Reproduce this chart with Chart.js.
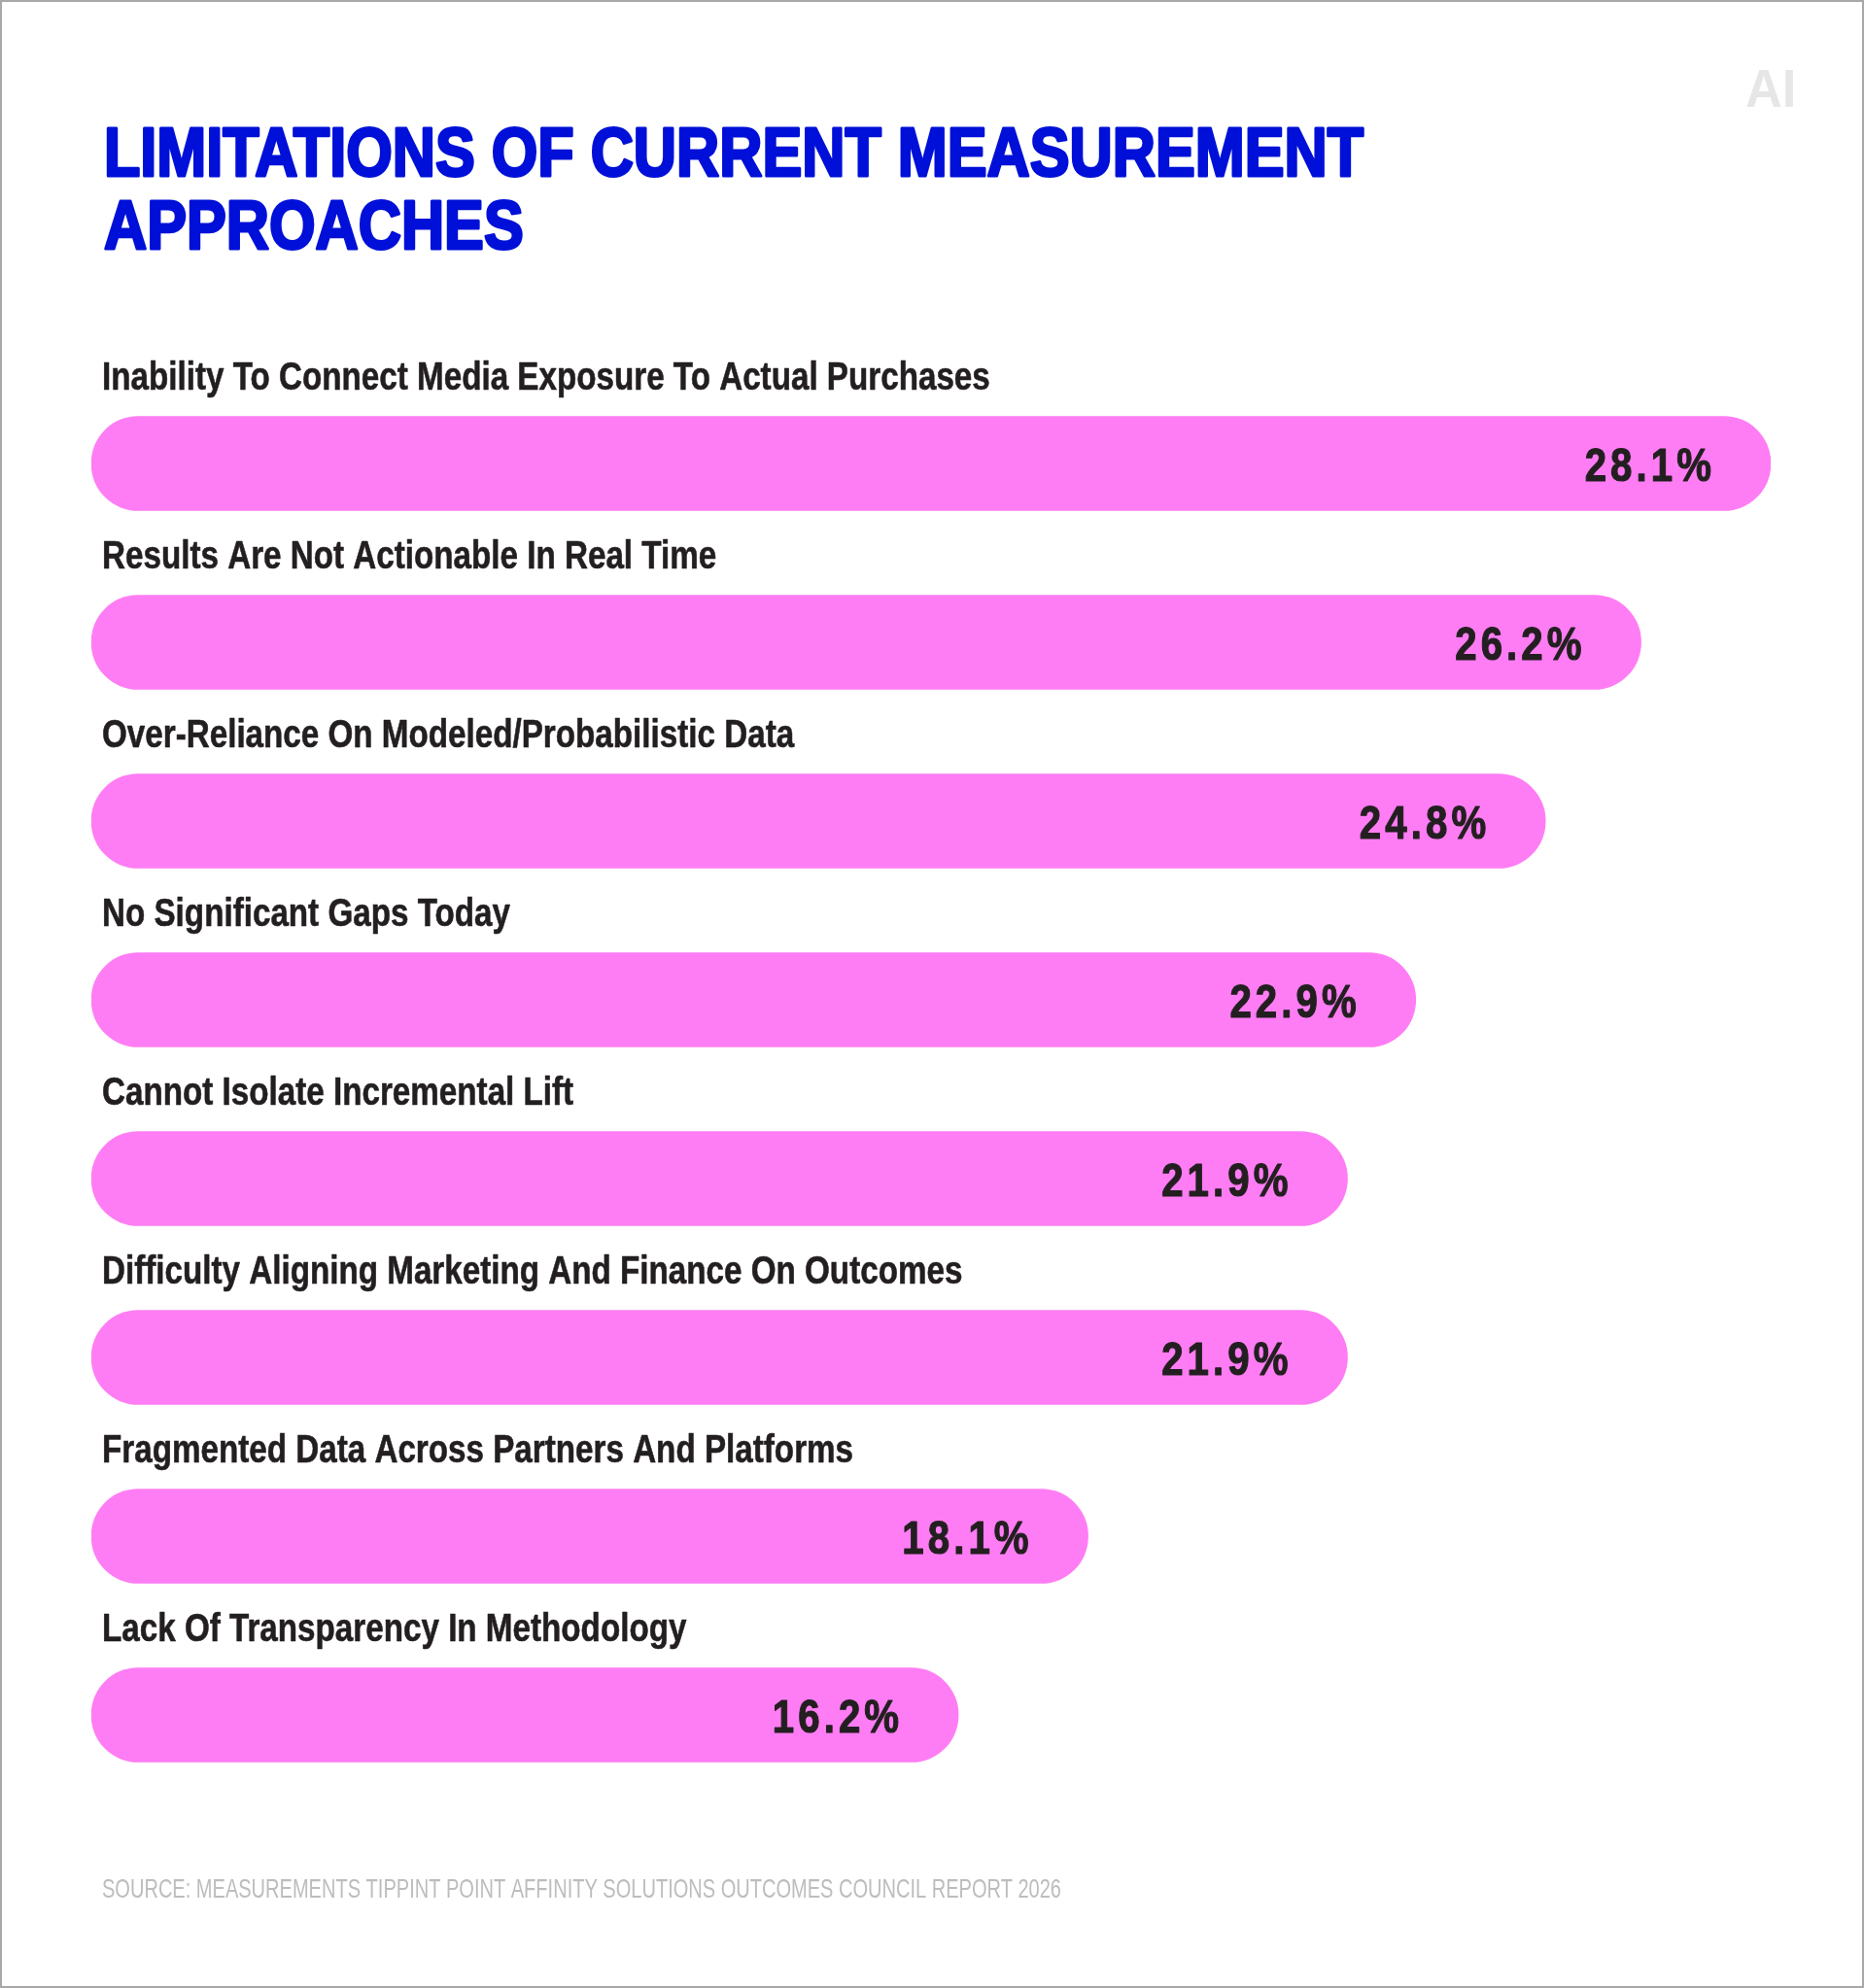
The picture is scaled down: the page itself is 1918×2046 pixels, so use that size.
<!DOCTYPE html>
<html>
<head>
<meta charset="utf-8">
<script src="https://cdn.jsdelivr.net/npm/chart.js@4.4.1/dist/chart.umd.min.js"></script>
<style>
  html, body { margin: 0; padding: 0; background: #ffffff; }
  #wrap { width: 1918px; height: 2046px; position: relative; }
  canvas { display: block; }
</style>
</head>
<body>
<div id="wrap"><canvas id="c" width="1918" height="2046"></canvas></div>
<script>
// ---- data ----
const titleLines = ["LIMITATIONS OF CURRENT MEASUREMENT", "APPROACHES"];
const categories = [
  "Inability To Connect Media Exposure To Actual Purchases",
  "Results Are Not Actionable In Real Time",
  "Over-Reliance On Modeled/Probabilistic Data",
  "No Significant Gaps Today",
  "Cannot Isolate Incremental Lift",
  "Difficulty Aligning Marketing And Finance On Outcomes",
  "Fragmented Data Across Partners And Platforms",
  "Lack Of Transparency In Methodology"
];
const values = [28.1, 26.2, 24.8, 22.9, 21.9, 21.9, 18.1, 16.2];
const sourceText = "SOURCE: MEASUREMENTS TIPPINT POINT AFFINITY SOLUTIONS OUTCOMES COUNCIL REPORT 2026";
const logoText = "AI";

// ---- scale settings ----
const axisMin = 3.5;
const axisMax = 28.1;

const SANS = "'Liberation Sans', Arial, sans-serif";
const BLUE = "#0010D8";
const PINK = "#FF7DF4";
const DARK = "#231F20";

function drawScaled(ctx, text, x, y, font, sx, ls, align, strokeW) {
  ctx.save();
  ctx.font = font;
  ctx.letterSpacing = (ls || 0) + "px";
  ctx.textAlign = 'left';
  ctx.textBaseline = 'alphabetic';
  let w = ctx.measureText(text).width - (ls || 0);
  const x0 = align === 'right' ? x - w * sx : x;
  ctx.translate(x0, y);
  ctx.scale(sx, 1);
  ctx.fillText(text, 0, 0);
  if (strokeW) {
    ctx.strokeStyle = ctx.fillStyle;
    ctx.lineWidth = strokeW;
    ctx.lineJoin = 'round';
    ctx.strokeText(text, 0, 0);
  }
  ctx.restore();
}
function widthOf(ctx, text, font) {
  ctx.save();
  ctx.font = font;
  ctx.letterSpacing = "0px";
  const w = ctx.measureText(text).width;
  ctx.restore();
  return w;
}

const decorPlugin = {
  id: 'decor',
  afterDatasetsDraw(chart) {
    const ctx = chart.ctx;
    const meta = chart.getDatasetMeta(0);
    const yScale = chart.scales.y;
    ctx.save();
    ctx.fillStyle = DARK;
    const labelFont = "bold 40px " + SANS;
    categories.forEach((c, i) => {
      const yc = yScale.getPixelForValue(i);
      drawScaled(ctx, c, 105, yc - 76, labelFont, 0.83, 0, 'left', 0.6);
    });
    const valFont = "bold 49px " + SANS;
    meta.data.forEach((bar, i) => {
      const t = values[i].toFixed(1) + "%";
      drawScaled(ctx, t, bar.x - 61, bar.y + 18, valFont, 0.82, 5, 'right', 1.2);
    });
    ctx.restore();
  },
  afterDraw(chart) {
    const ctx = chart.ctx;
    ctx.save();
    // title
    ctx.fillStyle = BLUE;
    const titleFont = "bold 70px " + SANS;
    const tsx = 1296 / widthOf(ctx, titleLines[0], titleFont);
    drawScaled(ctx, titleLines[0], 107, 181, titleFont, tsx, 0, 'left', 3);
    drawScaled(ctx, titleLines[1], 107, 256, titleFont, tsx, 0, 'left', 3);
    // source
    ctx.fillStyle = "#BDBDBD";
    const srcFont = "28px " + SANS;
    const ssx = 987 / widthOf(ctx, sourceText, srcFont);
    drawScaled(ctx, sourceText, 105, 1953, srcFont, ssx, 0, 'left', 0);
    // logo
    ctx.fillStyle = "#E6E6E6";
    drawScaled(ctx, logoText, 1796, 110, "bold 55px " + SANS, 0.95, 0, 'left', 0);
    // frame
    ctx.strokeStyle = "#A8A8A8";
    ctx.lineWidth = 2;
    ctx.strokeRect(1, 1, chart.width - 2, chart.height - 2);
    ctx.restore();
  }
};

const bgPlugin = {
  id: 'bg',
  beforeDraw(chart) {
    const ctx = chart.ctx;
    ctx.save();
    ctx.fillStyle = "#ffffff";
    ctx.fillRect(0, 0, chart.width, chart.height);
    ctx.restore();
  }
};

new Chart(document.getElementById('c'), {
  type: 'bar',
  data: {
    labels: categories,
    datasets: [{
      data: values,
      base: axisMin,
      backgroundColor: PINK,
      borderWidth: 0,
      borderRadius: 49,
      borderSkipped: false,
      barThickness: 97
    }]
  },
  options: {
    indexAxis: 'y',
    responsive: false,
    devicePixelRatio: 1,
    animation: false,
    layout: { padding: { left: 94, right: 96, top: 385, bottom: 189 } },
    scales: {
      x: { type: 'linear', min: axisMin, max: axisMax, display: false },
      y: { display: false }
    },
    plugins: {
      legend: { display: false },
      tooltip: { enabled: false },
      title: { display: false }
    }
  },
  plugins: [bgPlugin, decorPlugin]
});
</script>
</body>
</html>
